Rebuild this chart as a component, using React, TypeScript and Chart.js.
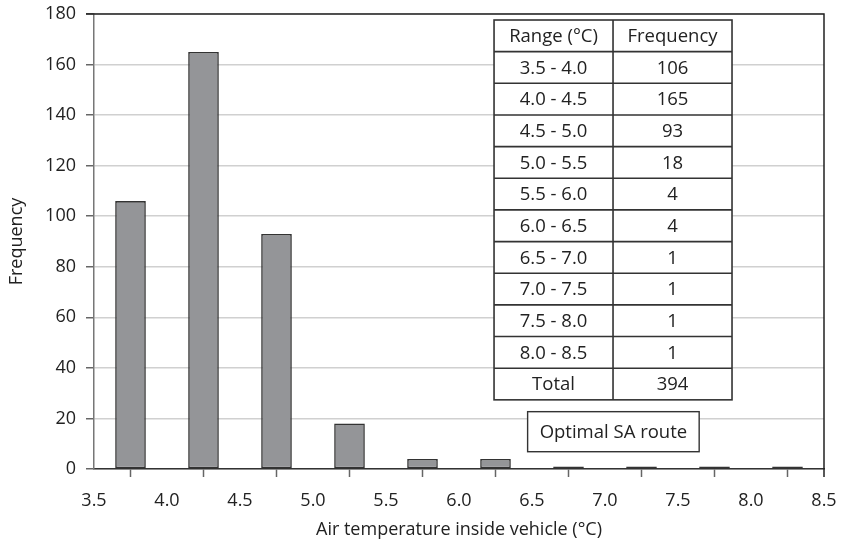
import React, { useEffect, useRef } from "react";
import { Chart, registerables } from "chart.js";

Chart.register(...registerables);

const binCenters = [3.75, 4.25, 4.75, 5.25, 5.75, 6.25, 6.75, 7.25, 7.75, 8.25];
const frequencies = [106, 165, 93, 18, 4, 4, 1, 1, 1, 1];
const rangeLabels = [
  "3.5 - 4.0", "4.0 - 4.5", "4.5 - 5.0", "5.0 - 5.5", "5.5 - 6.0",
  "6.0 - 6.5", "6.5 - 7.0", "7.0 - 7.5", "7.5 - 8.0", "8.0 - 8.5",
];
const tableHeader = ["Range (°C)", "Frequency"];
const totalLabel = "Total";
const totalValue = 394;
const annotationText = "Optimal SA route";
const xTitle = "Air temperature inside vehicle (°C)";
const yTitle = "Frequency";

const FONT = "'Open Sans', 'DejaVu Sans', sans-serif";
const TEXT = "#222";

const tablePlugin = {
  id: "tablePlugin",
  afterDraw(chart: any) {
    const ctx = chart.ctx;
    const ca = chart.chartArea;
    const w = ca.right - ca.left;
    const h = ca.bottom - ca.top;
    const left = ca.left + 0.548 * w;
    const mid = ca.left + 0.711 * w;
    const right = ca.left + 0.874 * w;
    const top = ca.top + 0.0132 * h;
    const bottom = ca.top + 0.848 * h;
    const rows: string[][] = [tableHeader];
    rangeLabels.forEach((r, i) => rows.push([r, String(frequencies[i])]));
    rows.push([totalLabel, String(totalValue)]);
    const rh = (bottom - top) / rows.length;
    ctx.save();
    ctx.fillStyle = "#fff";
    ctx.fillRect(left, top, right - left, bottom - top);
    ctx.strokeStyle = "#333";
    ctx.lineWidth = 1.6;
    ctx.strokeRect(left, top, right - left, bottom - top);
    ctx.beginPath();
    ctx.moveTo(mid, top);
    ctx.lineTo(mid, bottom);
    for (let i = 1; i < rows.length; i++) {
      ctx.moveTo(left, top + i * rh);
      ctx.lineTo(right, top + i * rh);
    }
    ctx.stroke();
    ctx.fillStyle = TEXT;
    ctx.font = `18.5px ${FONT}`;
    ctx.textAlign = "center";
    ctx.textBaseline = "middle";
    rows.forEach((r, i) => {
      const cy = top + (i + 0.5) * rh + 1;
      ctx.fillText(r[0], (left + mid) / 2, cy);
      ctx.fillText(r[1], (mid + right) / 2, cy);
    });
    // annotation box
    const bl = ca.left + 0.594 * w;
    const br = ca.left + 0.829 * w;
    const bt = ca.top + 0.874 * h;
    const bb = ca.top + 0.962 * h;
    ctx.fillStyle = "#fff";
    ctx.fillRect(bl, bt, br - bl, bb - bt);
    ctx.lineWidth = 1.4;
    ctx.strokeRect(bl, bt, br - bl, bb - bt);
    ctx.fillStyle = TEXT;
    ctx.fillText(annotationText, (bl + br) / 2, (bt + bb) / 2 + 1);
    // top and right border
    ctx.strokeStyle = "#222";
    ctx.lineWidth = 1.5;
    ctx.beginPath();
    ctx.moveTo(ca.left - 8, ca.top);
    ctx.lineTo(ca.right, ca.top);
    ctx.lineTo(ca.right, ca.bottom + 8);
    ctx.stroke();
    ctx.restore();
  },
};

export default function App() {
  const ref = useRef<HTMLCanvasElement>(null);
  useEffect(() => {
    document.body.style.margin = "0";
    const chart = new Chart(ref.current!, {
      type: "bar",
      data: {
        datasets: [
          {
            data: binCenters.map((x, i) => ({ x, y: frequencies[i] })),
            backgroundColor: "#949598",
            borderColor: "#333",
            borderWidth: 1.6,
            borderSkipped: false,
            barPercentage: 0.42,
            categoryPercentage: 1,
          },
        ],
      },
      options: {
        animation: false,
        responsive: false,
        layout: { padding: { left: 0, right: 17, top: 14, bottom: 0 } },
        plugins: { legend: { display: false }, tooltip: { enabled: false } },
        scales: {
          x: {
            type: "linear",
            offset: false,
            min: 3.5,
            max: 8.5,
            ticks: {
              stepSize: 0.5,
              color: TEXT,
              font: { family: FONT, size: 18 },
              padding: 13,
              callback: (v: any) => Number(v).toFixed(1),
            },
            grid: {
              display: true,
              drawOnChartArea: false,
              drawTicks: true,
              tickLength: 8,
              color: "#666",
              tickWidth: 1.5,
            },
            border: { display: true, color: "#333", width: 1.5 },
            title: {
              display: true,
              text: xTitle,
              color: TEXT,
              font: { family: FONT, size: 18 },
              padding: { top: 0, bottom: 7 },
            },
            afterFit: (s: any) => {
              s.height = 79;
              s.paddingLeft = 0;
              s.paddingRight = 0;
            },
          },
          y: {
            min: 0,
            max: 180,
            ticks: {
              stepSize: 20,
              color: TEXT,
              font: { family: FONT, size: 18 },
              padding: 10,
            },
            grid: {
              color: "#d0d0d0",
              lineWidth: 1.5,
              tickLength: 8,
              tickColor: "#666",
            },
            border: { display: true, color: "#777", width: 1.5 },
            title: {
              display: true,
              text: yTitle,
              color: TEXT,
              font: { family: FONT, size: 18 },
              padding: { top: 6, bottom: 0 },
            },
            afterFit: (s: any) => {
              s.width = 94;
              s.paddingTop = 0;
              s.paddingBottom = 0;
            },
          },
        },
      },
      plugins: [tablePlugin],
    });
    return () => chart.destroy();
  }, []);
  return <canvas ref={ref} width={841} height={548} style={{ display: "block" }} />;
}
